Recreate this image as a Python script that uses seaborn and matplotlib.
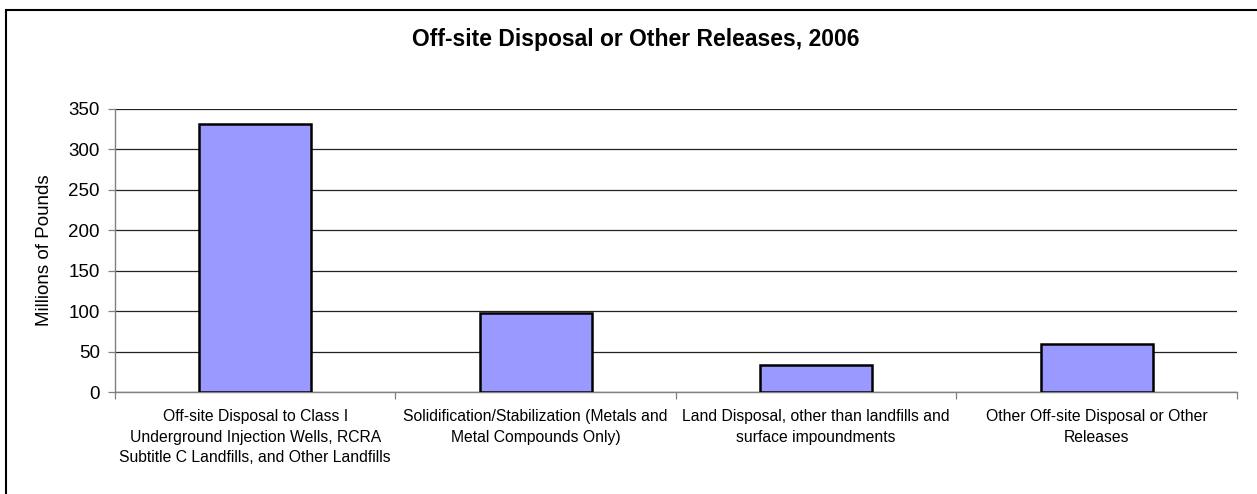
#importing packages
import matplotlib
matplotlib.use("Agg")
import matplotlib.pyplot as plt
import numpy as np
import pandas as pd
import seaborn as sns

#chart data
categories = [
    "Off-site Disposal to Class I\nUnderground Injection Wells, RCRA\nSubtitle C Landfills, and Other Landfills",
    "Solidification/Stabilization (Metals and\nMetal Compounds Only)",
    "Land Disposal, other than landfills and\nsurface impoundments",
    "Other Off-site Disposal or Other\nReleases",
]
values = [331, 98, 34, 60]
yticks = [0, 50, 100, 150, 200, 250, 300, 350]

sns.set_style("white")
plt.rcParams['font.family'] = ['Liberation Sans', 'DejaVu Sans']

df = pd.DataFrame({"cat": categories, "val": values})

fig = plt.figure(figsize=(12.57, 4.94), dpi=100)
ax = fig.add_axes([0.0915, 0.2055, 0.8925, 0.5745])

sns.barplot(data=df, x="cat", y="val", color="#9999FF", saturation=1,
            edgecolor="black", linewidth=1.8, width=0.4, ax=ax, zorder=3)

#axes styling
ax.set_ylim(0, 350)
ax.set_xlim(-0.5, 3.5)
ax.set_yticks(yticks)
ax.set_yticklabels([str(v) for v in yticks], fontsize=13.5, color="black")
ax.yaxis.grid(True, color="#222222", linewidth=0.9)
ax.set_axisbelow(True)
ax.tick_params(axis="y", length=5, width=0.9, color="#808080", left=True, pad=6)
ax.set_xticks(np.arange(len(categories)))
ax.set_xticklabels(categories, fontsize=11.3, linespacing=1.45, color="black")
ax.tick_params(axis="x", length=0, pad=12)
ax.set_xticks(np.arange(-0.5, len(categories), 1.0), minor=True)
ax.tick_params(axis="x", which="minor", length=5, width=0.9, color="#808080", bottom=True)
for s in ["top", "right"]:
    ax.spines[s].set_visible(False)
ax.spines["left"].set_color("#808080")
ax.spines["bottom"].set_color("#808080")
ax.spines["left"].set_linewidth(1)
ax.spines["bottom"].set_linewidth(1)

ax.set_xlabel("")
ax.set_ylabel("Millions of Pounds", fontsize=13.5, labelpad=11, color="black")
fig.text(636 / 1257, 1 - 46 / 494, "Off-site Disposal or Other Releases, 2006",
         fontsize=16.5, fontweight="bold", ha="center", va="baseline", color="black")

#outer chart frame
fig.add_artist(plt.Rectangle((6 / 1257, -0.05), 1.1, 1 - 9.5 / 494 + 0.05,
                             transform=fig.transFigure, fill=False,
                             edgecolor="black", linewidth=1.5))

fig.savefig("out.png", dpi=100)
